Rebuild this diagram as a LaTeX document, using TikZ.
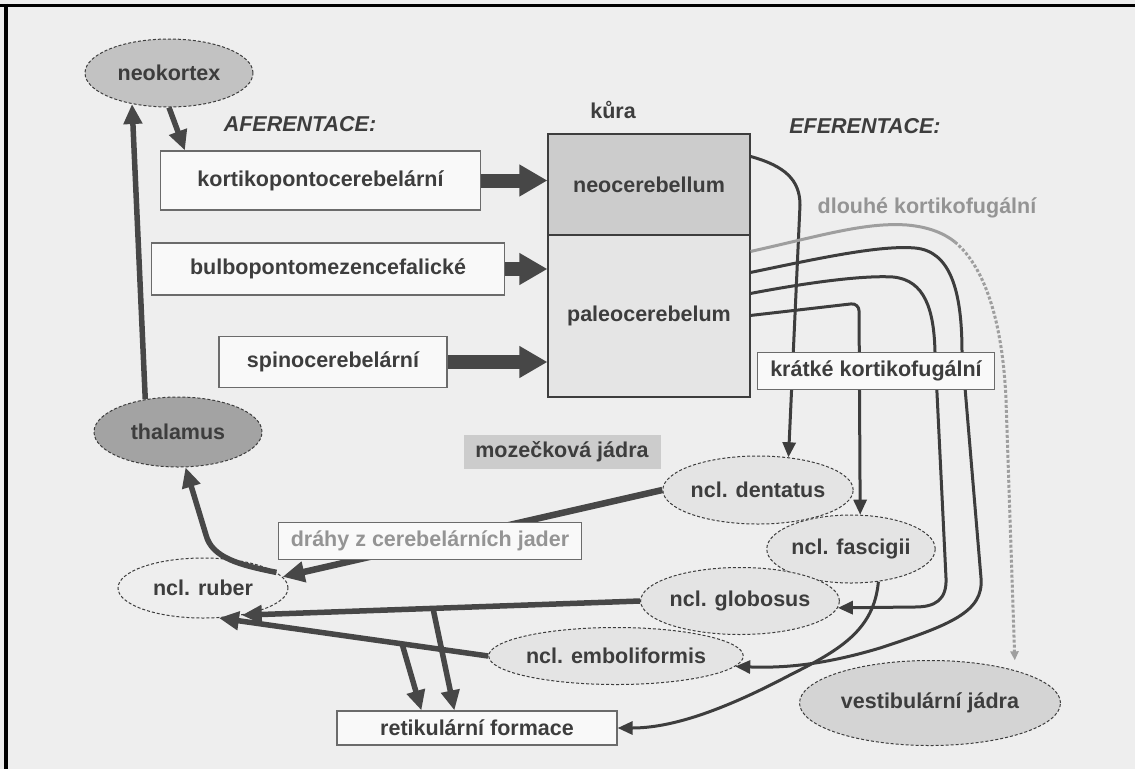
\documentclass[tikz,border=0pt]{standalone}
\usepackage{fontspec}
\setmainfont{Liberation Sans}
\usetikzlibrary{arrows.meta,shapes.geometric,calc}
\definecolor{bg}{gray}{0.935}
\definecolor{ink}{gray}{0.24}
\definecolor{arr}{gray}{0.28}
\definecolor{boxline}{gray}{0.42}
\definecolor{boxfill}{gray}{0.975}
\definecolor{graytext}{gray}{0.58}
\definecolor{grayline}{gray}{0.62}
\definecolor{neofill}{gray}{0.76}
\definecolor{thalfill}{gray}{0.64}
\definecolor{nuclfill}{gray}{0.895}
\definecolor{vestfill}{gray}{0.83}
\definecolor{mozfill}{gray}{0.80}
\definecolor{neocbfill}{gray}{0.80}
\definecolor{paleofill}{gray}{0.90}
\begin{document}
\begin{tikzpicture}[x=1pt,y=-1pt,
  font=\fontsize{21.5}{25}\selectfont\bfseries, text=ink,
  lbox/.style={draw=boxline, line width=1.2pt, fill=boxfill, inner sep=0pt},
  nucl/.style={ellipse, draw=ink, dash pattern=on 3pt off 2pt, line width=1pt, inner sep=0pt},
  cbpart/.style={draw=ink, line width=1.1pt, inner sep=0pt, minimum width=202pt},
  bigarr/.style={draw=arr, line width=14pt, -{Triangle[length=28pt,width=30pt]}},
  thickarr/.style={draw=arr, line width=5.5pt, -{Triangle[length=20pt,width=18pt]}},
  effarr/.style={draw=ink, line width=3pt, -{Triangle[length=15pt,width=13pt]}}
]
\useasboundingbox (0,0) rectangle (1135,769);
\fill[bg] (0,0) rectangle (1135,769);
% frame
\draw[line width=3.5pt, black] (0,5.5) -- (1135,5.5);
\draw[line width=4pt, black] (6,3.75) -- (6,769);

% labels
\node (aff) at (300,124) {\itshape AFERENTACE:};
\node (eff) at (865,126) {\itshape EFERENTACE:};
\node (kura) at (613,110) {kůra};
\node[text=graytext] (dlouhe) at (927,208) {dlouhé kortikofugální};

% afferent boxes
\node[lbox, minimum width=320pt, minimum height=59pt] (kort) at (320.5,180.5) {kortikopontocerebelární};
\node[lbox, minimum width=353pt, minimum height=52pt] (bulbo) at (328,269) {bulbopontomezencefalické};
\node[lbox, minimum width=228pt, minimum height=51pt] (spino) at (333,362) {spinocerebelární};

% cortex
\node[cbpart, fill=neocbfill, minimum height=101pt] (neocb) at (649,184.5) {neocerebellum};
\node[cbpart, fill=paleofill, minimum height=162pt] (paleocb) at (649,316) {paleocerebelum};

% nuclei label
\node[fill=mozfill, minimum width=197pt, minimum height=34pt, inner sep=0pt] (moz) at (562,452) {mozečková jádra};

% ellipses
\node[nucl, fill=neofill, minimum width=168pt, minimum height=68pt] (neo) at (169,73) {neokortex};
\node[nucl, fill=thalfill, minimum width=168pt, minimum height=70pt] (thal) at (178,432) {thalamus};
\node[nucl, minimum width=170pt, minimum height=60pt] (ruber) at (203,588) {ncl. ruber};
\node[nucl, fill=nuclfill, minimum width=167pt, minimum height=68pt] (dent) at (758,490) {ncl. dentatus};
\node[nucl, fill=nuclfill, minimum width=168pt, minimum height=68pt] (fasc) at (851,549) {ncl. fascigii};
\node[nucl, fill=nuclfill, minimum width=168pt, minimum height=67pt] (glob) at (740,601) {ncl. globosus};
\node[nucl, fill=nuclfill, minimum width=252pt, minimum height=57pt] (emb) at (616,656) {ncl. emboliformis};
\node[nucl, fill=vestfill, minimum width=261pt, minimum height=85pt] (vest) at (930,703) {vestibulární jádra};

\node[lbox, minimum width=280pt, minimum height=34pt] (ret) at (477,728) {retikulární formace};

% afferent arrows
\draw[bigarr] (kort.east) -- (kort.east -| neocb.west);
\draw[bigarr] (bulbo.east) -- (bulbo.east -| paleocb.west);
\draw[bigarr] (spino.east) -- (spino.east -| paleocb.west);

\draw[thickarr] (neo.south) -- ($(kort.north west)+(25,0)$);
\draw[thickarr] (thal.135) -- (neo.-140);
\draw[thickarr] (ruber.12) .. controls (240,565) and (212,558) .. (206,535) -- (thal.-78);

% from nuclei to ruber / reticular formation
\draw[draw=arr, line width=6.5pt, -{Triangle[length=22pt,width=20pt]}] (dent.west) -- (ruber.8);
\draw[thickarr] (glob.west) -- (ruber.-35);
\draw[thickarr] ($(glob.west)!0.52!(ruber.-35)$) -- ($(ret.north west)+(118,0)$);
\draw[thickarr] (emb.west) -- (ruber.-62);
\draw[thickarr] ($(emb.west)!0.32!(ruber.-62)$) -- ($(ret.north west)+(85,0)$);

% efferent lines
\draw[effarr] ($(neocb.north east)+(0,23)$) .. controls (785,166) and (800,180) .. (800,205) -- (dent.47);
\coordinate (gsplit) at (955,242);
\draw[draw=grayline, line width=3pt] ($(paleocb.north east)+(0,17)$) .. controls (820,236) and (865,222) .. (907,225) .. controls (930,227) and (945,234) .. (gsplit);
\draw[draw=grayline, line width=3pt, dash pattern=on 3pt off 2pt, shorten >=10pt, -{Triangle[length=9pt,width=8pt]}] (gsplit) .. controls (988,270) and (1003,330) .. (1006,400) -- (vest.21);
\draw[effarr] ($(paleocb.north east)+(0,38)$) .. controls (820,258) and (880,245) .. (915,248) .. controls (950,251) and (962,290) .. (962,352) -- (981,578) .. controls (984,612) and (950,625) .. (880,648) .. controls (820,666) and (780,668) .. (emb.-5);
\draw[effarr] ($(paleocb.north east)+(0,59)$) .. controls (800,284) and (860,275) .. (893,277) .. controls (925,280) and (934,310) .. (935,352) -- (946,578) .. controls (947,600) and (935,607) .. (915,607) -- (glob.-4);
\draw[effarr, rounded corners=8pt] ($(paleocb.north east)+(0,81)$) -- (859,303) -- (fasc.75);
\draw[effarr] (fasc.-50) .. controls (874,630) and (840,650) .. (790,675) .. controls (720,712) and (670,728) .. (ret.east);

% boxes on top of lines
\node[lbox, minimum width=237pt, minimum height=37pt] (kratke) at (876,371) {krátké kortikofugální};
\node[lbox, minimum width=303pt, minimum height=37pt, text=graytext] (drahy) at (430,541) {dráhy z cerebelárních jader};
\end{tikzpicture}
\end{document}
